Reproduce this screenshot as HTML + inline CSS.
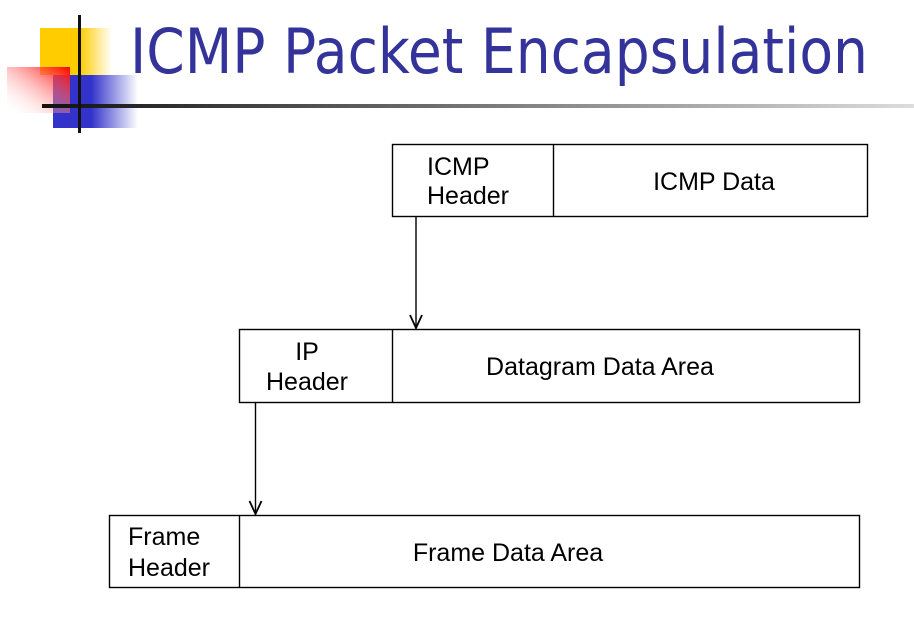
<!DOCTYPE html>
<html><head><meta charset="utf-8"><style>
html,body{margin:0;padding:0;background:#fff;}
body{width:914px;height:620px;overflow:hidden;position:relative;}
</style></head><body>
<svg width="914" height="620" xmlns="http://www.w3.org/2000/svg" style="position:absolute;left:0;top:0">
<defs>
<linearGradient id="gy" x1="0" x2="1" y1="0" y2="0"><stop offset="0.55" stop-color="#ffcc00"/><stop offset="1" stop-color="#ffcc00" stop-opacity="0"/></linearGradient>
<linearGradient id="gb" x1="0" x2="1" y1="0" y2="0"><stop offset="0.45" stop-color="#3333cc"/><stop offset="1" stop-color="#3333cc" stop-opacity="0"/></linearGradient>
<linearGradient id="gr" x1="1" y1="0" x2="0" y2="1"><stop offset="0" stop-color="#ff0000"/><stop offset="1" stop-color="#ffffff" stop-opacity="0"/></linearGradient>
<linearGradient id="gl" x1="0" x2="1" y1="0" y2="0"><stop offset="0" stop-color="#111"/><stop offset="1" stop-color="#ddd"/></linearGradient>
</defs>
<rect x="40" y="28" width="72" height="47" fill="url(#gy)"/>
<rect x="53" y="75" width="85" height="53" fill="url(#gb)"/>
<rect x="7" y="67" width="63" height="46" fill="url(#gr)"/>
<rect x="42" y="104" width="872" height="4" fill="url(#gl)"/>
<rect x="78" y="15" width="3" height="118" fill="#111"/>
<text x="130" y="73" font-family="DejaVu Sans, Liberation Sans, sans-serif" font-size="62" fill="#333399" textLength="738" lengthAdjust="spacingAndGlyphs">ICMP Packet Encapsulation</text>
<g fill="none" stroke="#000" stroke-width="1.4">
<rect x="392.5" y="144.5" width="475" height="72"/><line x1="553.5" y1="144" x2="553.5" y2="216"/>
<rect x="239.5" y="329.5" width="620" height="73"/><line x1="392.5" y1="329" x2="392.5" y2="402"/>
<rect x="109.5" y="515.5" width="750" height="72"/><line x1="239.5" y1="515" x2="239.5" y2="587"/>
<line x1="416" y1="216" x2="416" y2="328"/><polyline points="410,315 416,328 422,315" stroke-width="1.8"/>
<line x1="255.5" y1="402" x2="255.5" y2="514"/><polyline points="249.5,501 255.5,514 261.5,501" stroke-width="1.8"/>
</g>
<g font-family="Liberation Sans, Arial, sans-serif" font-size="25" fill="#000">
<text x="427" y="175">ICMP</text><text x="427" y="204">Header</text>
<text x="714" y="190" text-anchor="middle">ICMP Data</text>
<text x="307" y="360" text-anchor="middle">IP</text><text x="307" y="390" text-anchor="middle">Header</text>
<text x="600" y="375" text-anchor="middle">Datagram Data Area</text>
<text x="128" y="545">Frame</text><text x="128" y="576">Header</text>
<text x="508" y="561" text-anchor="middle">Frame Data Area</text>
</g>
</svg>
</body></html>
